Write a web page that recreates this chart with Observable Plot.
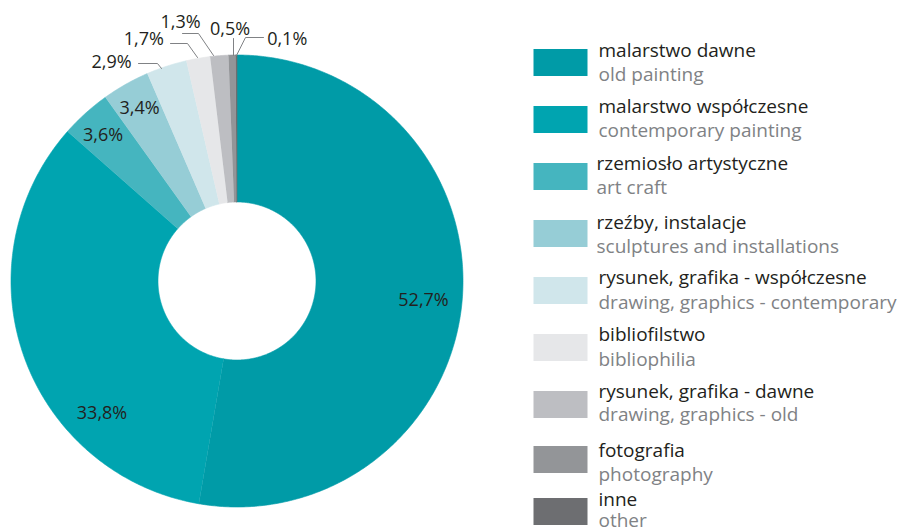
<!DOCTYPE html>
<html>
<head>
<meta charset="utf-8">
<script src="https://cdn.jsdelivr.net/npm/d3@7"></script>
<script src="https://cdn.jsdelivr.net/npm/@observablehq/plot@0.6"></script>
<style>
  html, body { margin: 0; padding: 0; background: #fff; }
  #chart { width: 898px; height: 529px; }
</style>
</head>
<body>
<div id="chart"></div>
<script>
// ---- data ----
const categoriesPL = ["malarstwo dawne", "malarstwo współczesne", "rzemiosło artystyczne", "rzeźby, instalacje", "rysunek, grafika - współczesne", "bibliofilstwo", "rysunek, grafika - dawne", "fotografia", "inne"];
const categoriesEN = ["old painting", "contemporary painting", "art craft", "sculptures and installations", "drawing, graphics - contemporary", "bibliophilia", "drawing, graphics - old", "photography", "other"];
const shares = [52.7, 33.8, 3.6, 3.4, 2.9, 1.7, 1.3, 0.5, 0.1];
const shareLabels = ["52,7%", "33,8%", "3,6%", "3,4%", "2,9%", "1,7%", "1,3%", "0,5%", "0,1%"];
const colors = ["#009ba7", "#00a4b0", "#45b5bf", "#96cdd6", "#d0e6eb", "#e6e7e9", "#bdbec2", "#939598", "#6d6e71"];

// ---- layout (pixels) ----
const W = 898, H = 529;
const CX = 236.5, CY = 280.5, R_OUT = 226, R_IN = 79;
const X = px => px - CX;
const Y = py => CY - py;
const labelPx = [[423, 300], [101.5, 413], [102.5, 134.5], [139, 107.5], [111, 61.7], [143.3, 38.3], [180, 21.7], [229.5, 29.2], [286.7, 38.3]];
const leaderPx = [null, null, null, null,
  [[138, 63], [157, 63], [161, 68]],
  [[170, 43], [187, 43], [197, 57]],
  [[182, 33], [198, 33], [213, 55]],
  [[233, 38], [233, 55]],
  [[263, 37], [245, 37], [236, 55]]];
const legendTops = [49, 106, 163, 220, 277, 334, 391, 446, 498];
const legendBasePL = [56.7, 112.7, 169.3, 228.3, 283.3, 340.7, 397.3, 456, 505];
const legendBaseEN = [80, 136.7, 193.3, 252.7, 308.3, 365, 420, 480, 526.5];

// ---- slices via d3.pie ----
const arcs = d3.pie().sort(null)(shares);
const slicePts = [];
arcs.forEach((a, i) => {
  const n = Math.max(3, Math.ceil((a.endAngle - a.startAngle) / (Math.PI / 360)));
  for (let k = 0; k <= n; k++) {
    const t = a.startAngle + (a.endAngle - a.startAngle) * k / n;
    slicePts.push({i, x: R_OUT * Math.sin(t), y: R_OUT * Math.cos(t), c: colors[i]});
  }
  for (let k = n; k >= 0; k--) {
    const t = a.startAngle + (a.endAngle - a.startAngle) * k / n;
    slicePts.push({i, x: R_IN * Math.sin(t), y: R_IN * Math.cos(t), c: colors[i]});
  }
});

const labels = shareLabels.map((s, i) => ({s, x: X(labelPx[i][0]), y: Y(labelPx[i][1])}));
const leaders = [];
leaderPx.forEach((pts, i) => { if (pts) pts.forEach(p => leaders.push({i, x: X(p[0]), y: Y(p[1])})); });

const legend = categoriesPL.map((pl, i) => ({
  pl, en: categoriesEN[i], c: colors[i],
  x1: X(533.5), x2: X(587.5), y1: Y(legendTops[i]), y2: Y(legendTops[i] + 27),
  tx: X(i === 2 || i === 3 ? 596 : 598), yPL: Y(legendBasePL[i]), yEN: Y(legendBaseEN[i])
}));

const plot = Plot.plot({
  width: W, height: H,
  margin: 0,
  x: {domain: [X(0), X(W)], range: [0, W], axis: null},
  y: {domain: [Y(H), Y(0)], range: [H, 0], axis: null},
  color: {type: "identity"},
  style: {fontFamily: "'Open Sans', sans-serif", background: "#fff", overflow: "visible"},
  marks: [
    Plot.line(slicePts, {x: "x", y: "y", z: "i", fill: "c", stroke: "c", strokeWidth: 0.6, curve: "linear"}),
    Plot.line(leaders, {x: "x", y: "y", z: "i", stroke: "#808285", strokeWidth: 1}),
    Plot.text(labels, {x: "x", y: "y", text: "s", fill: "#231f20", fontSize: 18, textAnchor: "middle"}),
    Plot.rect(legend, {x1: "x1", x2: "x2", y1: "y1", y2: "y2", fill: "c"}),
    Plot.text(legend, {x: "tx", y: "yPL", text: "pl", fill: "#231f20", fontSize: 19, textAnchor: "start", lineAnchor: "bottom"}),
    Plot.text(legend, {x: "tx", y: "yEN", text: "en", fill: "#808285", fontSize: 19, textAnchor: "start", lineAnchor: "bottom"})
  ]
});
document.getElementById("chart").appendChild(plot);
</script>
</body>
</html>
